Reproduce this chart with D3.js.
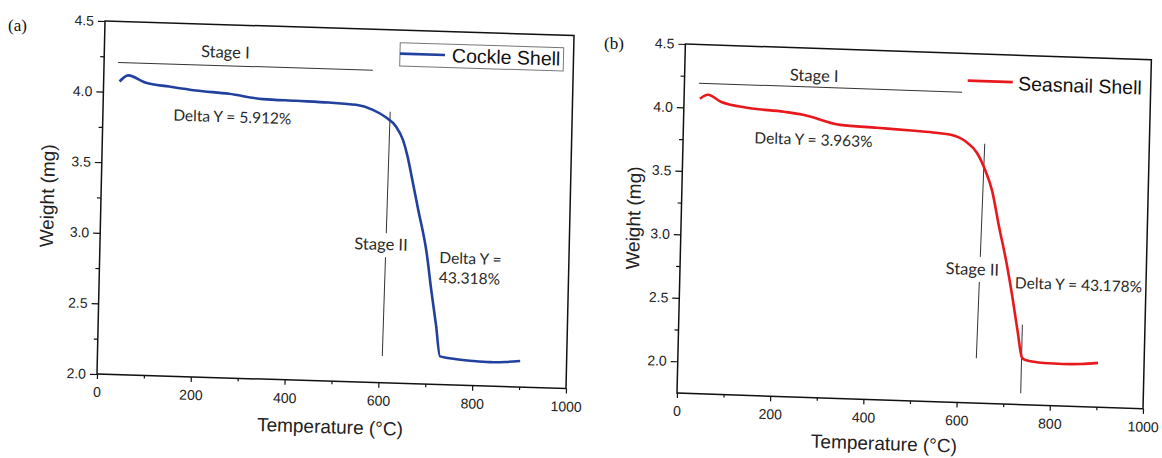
<!DOCTYPE html>
<html>
<head>
<meta charset="utf-8">
<script src="https://cdn.jsdelivr.net/npm/d3@7/dist/d3.min.js"></script>
<style>
  body { margin: 0; background: #fff; }
  svg { display: block; }
</style>
</head>
<body>
<svg id="chart" width="1162" height="458"></svg>
<script>
(function(){
  // TGA curves: temperature (°C) and weight (mg)
  const cockleTemp   = [34, 52, 90, 140, 197, 268, 340, 411, 481, 539, 575, 603, 625, 641, 651, 662, 676, 697, 708, 720, 730, 762, 800, 837, 870, 901];
  const cockleWeight = [4.075, 4.12, 4.072, 4.05, 4.028, 4.012, 3.982, 3.977, 3.972, 3.962, 3.93, 3.88, 3.817, 3.72, 3.61, 3.45, 3.24, 2.92, 2.67, 2.42, 2.20, 2.185, 2.175, 2.17, 2.175, 2.185];

  const seasnailTemp   = [34, 51, 79, 135, 215, 256, 336, 415, 495, 542, 574, 607, 631, 649, 665, 682, 700, 714, 727, 738, 745, 785, 826, 865, 901];
  const seasnailWeight = [4.073, 4.107, 4.055, 4.015, 3.993, 3.975, 3.905, 3.892, 3.878, 3.868, 3.856, 3.805, 3.72, 3.59, 3.43, 3.145, 2.86, 2.60, 2.33, 2.12, 2.103, 2.085, 2.082, 2.087, 2.10];

  // axis ticks
  const tempTicks = [0, 200, 400, 600, 800, 1000];
  const tempMinor = [100, 300, 500, 700, 900];
  const weightTicks = [2.0, 2.5, 3.0, 3.5, 4.0, 4.5];
  const weightMinor = [2.25, 2.75, 3.25, 3.75, 4.25];

  const svg = d3.select("#chart");
  const arial = "'Liberation Sans', Arial, sans-serif";
  const calibri = "Lato, 'Open Sans', sans-serif";

  function drawPanel(o) {
    // the scan is slightly tilted, mimic it with a small shear
    const g = svg.append("g")
      .attr("transform", `matrix(1,${o.k},${-o.c},1,${o.c * o.oy},${-o.k * o.ox})`);

    const x = d3.scaleLinear().domain([0, 1000]).range(o.xRange);
    const y = d3.scaleLinear().domain(o.yDomain).range(o.yRange);

    // frame
    g.append("rect")
      .attr("x", o.xRange[0]).attr("y", o.yRange[1])
      .attr("width", o.xRange[1] - o.xRange[0])
      .attr("height", o.yRange[0] - o.yRange[1])
      .attr("fill", "none").attr("stroke", "#111").attr("stroke-width", 1.5);

    // x axis
    g.append("g").attr("transform", `translate(0,${o.yRange[0]})`)
      .call(d3.axisBottom(x).tickValues(tempTicks).tickSize(5).tickSizeOuter(0).tickPadding(8).tickFormat(d3.format("d")));
    g.append("g").attr("transform", `translate(0,${o.yRange[0]})`)
      .call(d3.axisBottom(x).tickValues(tempMinor).tickSize(3).tickSizeOuter(0).tickFormat(""));

    // y axis
    g.append("g").attr("transform", `translate(${o.xRange[0]},0)`)
      .call(d3.axisLeft(y).tickValues(weightTicks).tickSize(7).tickSizeOuter(0).tickPadding(4).tickFormat(d3.format(".1f")));
    g.append("g").attr("transform", `translate(${o.xRange[0]},0)`)
      .call(d3.axisLeft(y).tickValues(weightMinor).tickSize(4).tickSizeOuter(0).tickFormat(""));

    g.selectAll(".domain").remove();
    g.selectAll(".tick line").attr("stroke", "#111").attr("stroke-width", 1.2);
    g.selectAll(".tick text").attr("font-family", arial).attr("font-size", 14).attr("fill", "#222");

    // axis titles
    g.append("text")
      .attr("transform", `translate(${o.yTitle[0]},${o.yTitle[1]}) rotate(-90)`)
      .attr("text-anchor", "middle")
      .attr("font-family", arial).attr("font-size", 19).attr("fill", "#222")
      .text("Weight (mg)");
    g.append("text")
      .attr("x", o.xTitle[0]).attr("y", o.xTitle[1])
      .attr("text-anchor", "middle")
      .attr("font-family", arial).attr("font-size", 19).attr("fill", "#222")
      .text("Temperature (°C)");

    // annotation lines
    const ann = g.append("g").attr("stroke", "#333").attr("stroke-width", 1);
    ann.append("line")
      .attr("x1", x(o.stage1[0])).attr("x2", x(o.stage1[1]))
      .attr("y1", y(o.stage1[2])).attr("y2", y(o.stage1[2]));
    // stage II divider, broken where its label sits
    const s2 = o.stage2;
    const tAt = v => s2.t1 + (s2.t0 - s2.t1) * (v - s2.v1) / (s2.v0 - s2.v1);
    [[s2.v0, s2.gap[0]], [s2.gap[1], s2.v1]].forEach(seg => {
      ann.append("line")
        .attr("x1", x(tAt(seg[0]))).attr("y1", y(seg[0]))
        .attr("x2", x(tAt(seg[1]))).attr("y2", y(seg[1]));
    });
    if (o.extraLine) {
      ann.append("line")
        .attr("x1", x(o.extraLine[0])).attr("x2", x(o.extraLine[0]))
        .attr("y1", y(o.extraLine[1])).attr("y2", y(o.extraLine[2]));
    }

    // curve
    const pts = o.temps.map((t, i) => [t, o.weights[i]]);
    g.append("path")
      .datum(pts)
      .attr("fill", "none")
      .attr("stroke", o.color)
      .attr("stroke-width", 2.6)
      .attr("stroke-linejoin", "round")
      .attr("d", d3.line().x(d => x(d[0])).y(d => y(d[1])).curve(d3.curveMonotoneX));

    // annotation texts
    o.notes.forEach(n => {
      g.append("text")
        .attr("x", x(n.t)).attr("y", y(n.v))
        .attr("text-anchor", n.anchor)
        .attr("font-family", calibri).attr("font-size", n.size).attr("fill", "#2a2a2a")
        .text(n.text);
    });

    // legend
    const L = o.legend;
    if (L.box) {
      g.append("rect")
        .attr("x", L.box[0]).attr("y", L.box[1]).attr("width", L.box[2]).attr("height", L.box[3])
        .attr("fill", "#fff").attr("stroke", "#777").attr("stroke-width", 1);
    }
    g.append("line")
      .attr("x1", L.line[0]).attr("x2", L.line[1]).attr("y1", L.line[2]).attr("y2", L.line[2])
      .attr("stroke", o.color).attr("stroke-width", 2.6);
    g.append("text")
      .attr("x", L.text[0]).attr("y", L.text[1])
      .attr("font-family", arial).attr("font-size", 19.5).attr("fill", "#111")
      .text(o.name);

    // panel letter
    svg.append("text")
      .attr("x", o.letter[0]).attr("y", o.letter[1])
      .attr("font-family", "'Liberation Serif', 'Times New Roman', serif")
      .attr("font-size", 17).attr("fill", "#111")
      .text(o.letterText);
  }

  drawPanel({
    name: "Cockle Shell", color: "#22409e",
    temps: cockleTemp, weights: cockleWeight,
    ox: 97, oy: 374, k: 0.031, c: 0.0227,
    xRange: [97, 566], yDomain: [2.0, 4.5], yRange: [374, 21],
    stage1: [30, 573, 4.21],
    stage2: { t0: 612, v0: 3.92, t1: 607, v1: 2.19, gap: [3.06, 2.89] },
    notes: [
      { t: 258, v: 4.266, text: "Stage I", anchor: "middle", size: 16.5 },
      { t: 150, v: 3.81, text: "Delta Y = 5.912%", anchor: "start", size: 15.5 },
      { t: 599, v: 2.94, text: "Stage II", anchor: "middle", size: 16.5 },
      { t: 724, v: 2.86, text: "Delta Y =", anchor: "start", size: 15.5 },
      { t: 724, v: 2.72, text: "43.318%", anchor: "start", size: 15.5 }
    ],
    legend: { box: [392.5, 33.5, 163.5, 23.3], line: [392.5, 437.5, 44.5], text: [444.5, 51.5] },
    yTitle: [50, 197.5], xTitle: [331, 426],
    letter: [8, 31], letterText: "(a)"
  });

  drawPanel({
    name: "Seasnail Shell", color: "#e8191c",
    temps: seasnailTemp, weights: seasnailWeight,
    ox: 677, oy: 393, k: 0.034, c: 0.024,
    xRange: [677, 1143], yDomain: [1.75, 4.5], yRange: [393, 44],
    stage1: [31, 596, 4.195],
    stage2: { t0: 647, v0: 3.795, t1: 640, v1: 2.104, gap: [2.903, 2.705] },
    extraLine: [737, 2.38, 1.84],
    notes: [
      { t: 278, v: 4.24, text: "Stage I", anchor: "middle", size: 16.5 },
      { t: 153, v: 3.738, text: "Delta Y = 3.963%", anchor: "start", size: 15.5 },
      { t: 627, v: 2.759, text: "Stage II", anchor: "middle", size: 16.5 },
      { t: 719, v: 2.666, text: "Delta Y = 43.178%", anchor: "start", size: 15.5 }
    ],
    legend: { box: null, line: [960, 1005, 71], text: [1010.5, 79] },
    yTitle: [636, 219.6], xTitle: [885, 443],
    letter: [604, 49], letterText: "(b)"
  });
})();
</script>
</body>
</html>
